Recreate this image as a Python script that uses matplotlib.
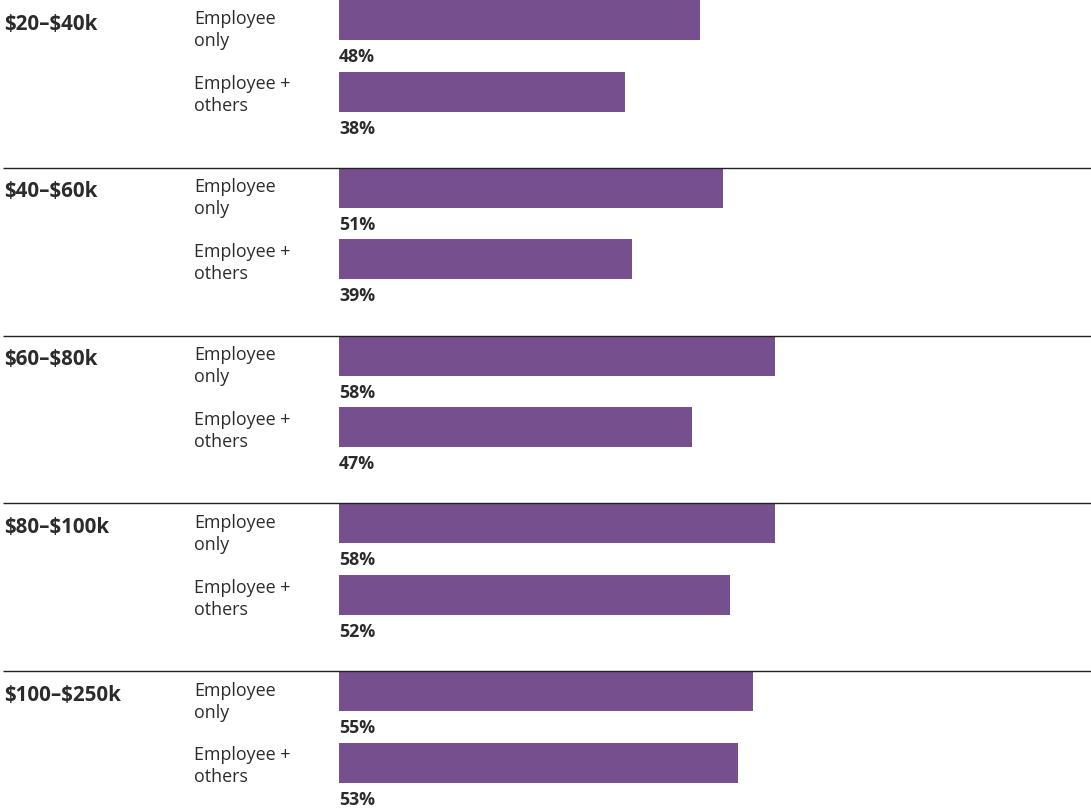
import matplotlib
matplotlib.use("Agg")
import matplotlib.pyplot as plt

plt.rcParams['font.family'] = ['Open Sans', 'DejaVu Sans']
plt.rcParams['text.parse_math'] = False

income_groups = ["$20–$40k", "$40–$60k", "$60–$80k", "$80–$100k", "$100–$250k"]
coverage_types = [["Employee", "only"], ["Employee +", "others"]]
employee_only = [48, 51, 58, 58, 55]
employee_plus_others = [38, 39, 47, 52, 53]

BAR_COLOR = "#764f8f"
TEXT_COLOR = "#2b2b2b"

W, H = 1091, 811
fig = plt.figure(figsize=(W / 100, H / 100), dpi=100)
ax = fig.add_axes([0, 0, 1, 1])

# x axis in percent, 0% sits at the bar origin; y axis in pixel rows
px_per_pct = 7.52
x0 = 339
ax.set_xlim(-x0 / px_per_pct, (W - x0) / px_per_pct)
ax.set_ylim(H, 0)
ax.axis("off")

group_step = 167.8
bar_h = 40
row_offsets = [0, 71.5]
label_baselines = [24.4, 17.7]
left_edge = -x0 / px_per_pct

for i, group in enumerate(income_groups):
    top = i * group_step
    if i > 0:
        rule_y = round(top - 1) + 0.5
        ax.plot([left_edge + 0.4, 100], [rule_y, rule_y],
                color="#222222", lw=1.0, solid_capstyle="butt")
    ax.text(left_edge + 0.55, top + 29.5, group, ha="left", va="baseline",
            fontsize=14.8, fontweight="bold", color=TEXT_COLOR)
    values = [employee_only[i], employee_plus_others[i]]
    for j, (cov, val) in enumerate(zip(coverage_types, values)):
        y = top + row_offsets[j]
        ax.barh(y, val, height=bar_h, left=0, align="edge", color=BAR_COLOR)
        for k, line in enumerate(cov):
            ax.text(-145 / px_per_pct, y + label_baselines[j] + 22 * k, line,
                    ha="left", va="baseline", fontsize=12.9, color=TEXT_COLOR)
        ax.text(0, y + 62, f"{val}%", ha="left", va="baseline",
                fontsize=12.8, fontweight="bold", color=TEXT_COLOR)

fig.savefig("out.png", dpi=100)
